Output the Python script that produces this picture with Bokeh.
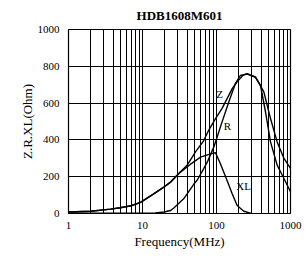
from bokeh.plotting import figure
from bokeh.models import FixedTicker, NumeralTickFormatter, Range1d
from bokeh.core.properties import value
from bokeh.embed import file_html
from bokeh.resources import INLINE

# Impedance curves of HDB1608M601
z_freq = [1, 2, 3.7, 5, 7, 9.4, 14, 19.4, 24, 29, 40, 52, 67, 79, 97, 119, 163, 190, 230, 260, 336, 436, 537, 660, 816, 1000]
z_ohm  = [8, 12, 24, 31, 42, 60, 105, 143, 172, 207, 262, 335, 395, 455, 516, 571, 679, 716, 752, 760, 743, 661, 516, 389, 299, 245]

r_freq = [1, 10, 15, 19.5, 24, 26.5, 36, 49.5, 55, 67.5, 75, 83, 92, 97, 119, 147, 180, 210, 260, 336, 393, 459, 537, 660, 816, 1000]
r_ohm  = [1, 2, 3, 8, 16, 30, 80, 160, 182, 245, 279, 320, 361, 389, 498, 607, 707, 750, 758, 740, 697, 553, 389, 263, 190, 118]

xl_freq = [1, 2, 3.7, 5, 7, 9.4, 14, 19.4, 24, 32.6, 44.6, 61, 83, 97, 113, 139, 163, 190, 234, 288, 300]
xl_ohm  = [8, 12, 24, 31, 42, 60, 105, 143, 170, 225, 268, 306, 324, 330, 270, 179, 107, 43, 12, 2, 0]

x_major = [1, 10, 100, 1000]
x_minor = [2, 3, 4, 5, 6, 7, 8, 9, 20, 30, 40, 50, 60, 70, 80, 90,
           200, 300, 400, 500, 600, 700, 800, 900]
y_ticks = [0, 200, 400, 600, 800, 1000]

curve_names = ["Z", "R", "XL"]
name_freq = [110, 141, 232]
name_ohm = [652, 473, 147]

SERIF = "Liberation Serif"

p = figure(width=306, height=256, x_axis_type="log",
           x_range=Range1d(1, 1000), y_range=Range1d(0, 1000),
           output_backend="svg", toolbar_location=None,
           min_border_left=68, min_border_right=16,
           min_border_top=29, min_border_bottom=43)

p.title.text = "HDB1608M601"
p.title.align = "center"
p.title.text_font = SERIF
p.title.text_font_style = "bold"
p.title.text_font_size = "13px"
p.title.text_color = "black"
p.title.standoff = 10
p.title.vertical_align = "top"

p.background_fill_color = "white"
p.border_fill_color = "white"
p.outline_line_color = "black"
p.outline_line_width = 1.2

p.xaxis.ticker = FixedTicker(ticks=x_major, minor_ticks=x_minor)
p.xaxis.formatter = NumeralTickFormatter(format="0")
p.yaxis.ticker = FixedTicker(ticks=y_ticks)

for ax in (p.xaxis, p.yaxis):
    ax.axis_line_color = None
    ax.major_tick_line_color = None
    ax.minor_tick_line_color = None
    ax.major_tick_out = 0
    ax.major_tick_in = 0
    ax.minor_tick_out = 0
    ax.minor_tick_in = 0
    ax.major_label_text_font = SERIF
    ax.major_label_text_font_size = "11px"
    ax.major_label_text_color = "black"
    ax.axis_label_text_font = SERIF
    ax.axis_label_text_font_size = "13px"
    ax.axis_label_text_font_style = "normal"
    ax.axis_label_text_color = "black"

p.xaxis.axis_label = "Frequency(MHz)"
p.yaxis.axis_label = "Z.R.XL(Ohm)"
p.xaxis.major_label_standoff = 8
p.yaxis.major_label_standoff = 9
p.xaxis.axis_label_standoff = 2
p.yaxis.axis_label_standoff = 0

p.xgrid.grid_line_color = "black"
p.xgrid.grid_line_alpha = 1
p.xgrid.minor_grid_line_color = "black"
p.xgrid.minor_grid_line_alpha = 1
p.ygrid.grid_line_color = "black"
p.ygrid.grid_line_alpha = 1

p.line(z_freq, z_ohm, line_color="black", line_width=1.4)
p.line(r_freq, r_ohm, line_color="black", line_width=1.4)
p.line(xl_freq, xl_ohm, line_color="black", line_width=1.4)

p.text(x=name_freq, y=name_ohm, text=curve_names,
       text_font=value(SERIF), text_font_size="11px", text_color="black",
       text_align="center", text_baseline="middle")

open("out.html", "w").write(file_html(p, INLINE))
